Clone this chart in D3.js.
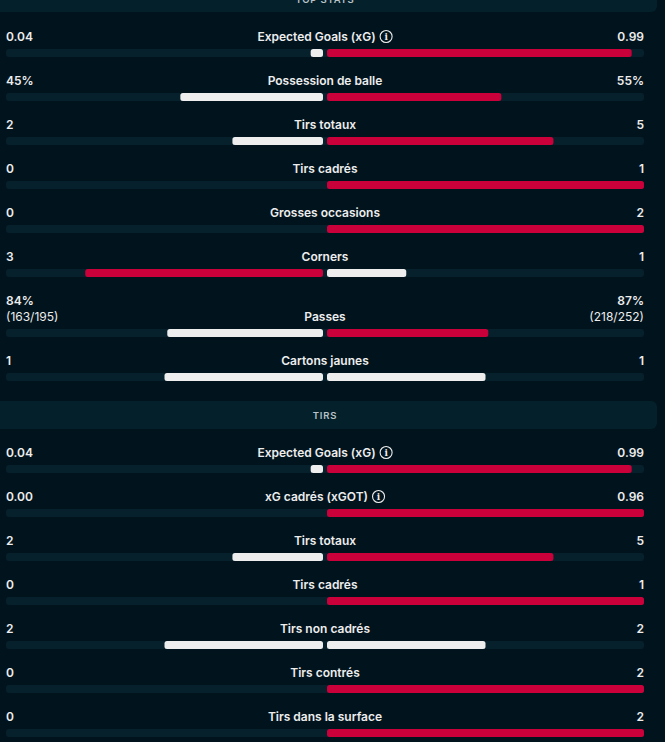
<!DOCTYPE html>
<html>
<head>
<meta charset="utf-8">
<style>
  html, body { margin: 0; padding: 0; background: #01141d; overflow: hidden; }
  svg { display: block; font-family: "Inter", "Roboto", sans-serif; }
  .lbl { font-size: 12px; font-weight: 600; fill: #ededed; }
  .sub { font-size: 12px; font-weight: 400; fill: #ededed; }
  .head { font-size: 9.5px; font-weight: 600; fill: #b9c3c8; letter-spacing: 0.8px; }
</style>
</head>
<body>
<svg width="665" height="742"></svg>
<script src="https://d3js.org/d3.v7.min.js"></script>
<script>

// section titles
var sections = ["TOP STATS", "TIRS"];

// top stats
var topLabels = ["Expected Goals (xG)", "Possession de balle", "Tirs totaux", "Tirs cadrés",
                 "Grosses occasions", "Corners", "Passes", "Cartons jaunes"];
var topHome = [0.04, 45, 2, 0, 0, 3, 84, 1];
var topAway = [0.99, 55, 5, 1, 2, 1, 87, 1];
var topHomeText = ["0.04", "45%", "2", "0", "0", "3", "84%", "1"];
var topAwayText = ["0.99", "55%", "5", "1", "2", "1", "87%", "1"];
var topHomeSub = ["", "", "", "", "", "", "(163/195)", ""];
var topAwaySub = ["", "", "", "", "", "", "(218/252)", ""];
var topInfo = [true, false, false, false, false, false, false, false];

// shots
var shotLabels = ["Expected Goals (xG)", "xG cadrés (xGOT)", "Tirs totaux", "Tirs cadrés",
                  "Tirs non cadrés", "Tirs contrés", "Tirs dans la surface"];
var shotHome = [0.04, 0.00, 2, 0, 2, 0, 0];
var shotAway = [0.99, 0.96, 5, 1, 2, 2, 2];
var shotHomeText = ["0.04", "0.00", "2", "0", "2", "0", "0"];
var shotAwayText = ["0.99", "0.96", "5", "1", "2", "2", "2"];
var shotInfo = [true, true, false, false, false, false, false];

var svg = d3.select("svg");

var RED = "#c9003a", WHITE = "#eeeeee", TRACK = "#06212c", BAND = "#04212b";
var left = 6, right = 644, mid = 325, gap = 2;
var half = (right - left) / 2 - gap;   // 317

function rows(labels, home, away, homeText, awayText, info, homeSub, awaySub) {
  return labels.map(function(l, i) {
    return { label: l, home: home[i], away: away[i], ht: homeText[i], at: awayText[i],
             info: info[i], hs: homeSub ? homeSub[i] : "", as: awaySub ? awaySub[i] : "" };
  });
}

var topRows = rows(topLabels, topHome, topAway, topHomeText, topAwayText, topInfo, topHomeSub, topAwaySub);
var shotRows = rows(shotLabels, shotHome, shotAway, shotHomeText, shotAwayText, shotInfo);

// section header bands
function header(text, y0, y1, ty) {
  svg.append("rect")
    .attr("x", -10).attr("y", y0)
    .attr("width", 667).attr("height", y1 - y0)
    .attr("rx", 6)
    .attr("fill", BAND);
  svg.append("text")
    .attr("class", "head")
    .attr("x", mid).attr("y", ty)
    .attr("text-anchor", "middle")
    .text(text);
}

function drawRows(data, baseY) {
  var y = baseY, extra = 0;
  data.forEach(function(d) {
    var lineY = y + extra;
    if (d.hs) { extra += 16; }
    var lblY = y + extra;     // baseline of label
    var barY = lblY + 8;

    var g = svg.append("g");

    // values
    g.append("text").attr("class", "lbl")
      .attr("x", left).attr("y", lineY).text(d.ht);
    g.append("text").attr("class", "lbl")
      .attr("x", right).attr("y", lineY).attr("text-anchor", "end").text(d.at);
    if (d.hs) {
      g.append("text").attr("class", "sub")
        .attr("x", left).attr("y", lblY).text(d.hs);
      g.append("text").attr("class", "sub")
        .attr("x", right).attr("y", lblY).attr("text-anchor", "end").text(d.as);
    }

    // label (+ info icon), centred as a group
    var lg = g.append("g");
    var t = lg.append("text").attr("class", "lbl").attr("x", 0).attr("y", lblY).text(d.label);
    var w = t.node().getComputedTextLength();
    var total = w;
    if (d.info) {
      var cx = w + 4 + 6.5;
      lg.append("circle").attr("cx", cx).attr("cy", lblY - 4.5).attr("r", 6)
        .attr("fill", "none").attr("stroke", "#ededed").attr("stroke-width", 1.1);
      lg.append("text").attr("x", cx).attr("y", lblY - 1)
        .attr("text-anchor", "middle")
        .style("font-size", "9px").style("font-weight", "700").style("fill", "#ededed")
        .style("font-family", "DejaVu Serif, serif")
        .text("i");
      total = w + 4 + 13;
    }
    lg.attr("transform", "translate(" + (mid - total / 2) + ",0)");

    // track
    g.append("rect")
      .attr("x", left).attr("y", barY)
      .attr("width", right - left).attr("height", 8)
      .attr("rx", 3).attr("fill", TRACK);

    var x = d3.scaleLinear().domain([0, d.home + d.away]).range([0, half]);
    var hc = d.home > d.away ? RED : WHITE;
    var ac = d.away > d.home ? RED : WHITE;

    if (d.home > 0) {
      g.append("rect")
        .attr("x", mid - gap - x(d.home)).attr("y", barY)
        .attr("width", x(d.home)).attr("height", 8)
        .attr("rx", 2.5).attr("fill", hc);
    }
    if (d.away > 0) {
      g.append("rect")
        .attr("x", mid + gap).attr("y", barY)
        .attr("width", x(d.away)).attr("height", 8)
        .attr("rx", 2.5).attr("fill", ac);
    }

    y += 44;
  });
}

header(sections[0], -30, 12, 3);
drawRows(topRows, 41);
header(sections[1], 401, 429, 418.5);
drawRows(shotRows, 457);

</script>
</body>
</html>
